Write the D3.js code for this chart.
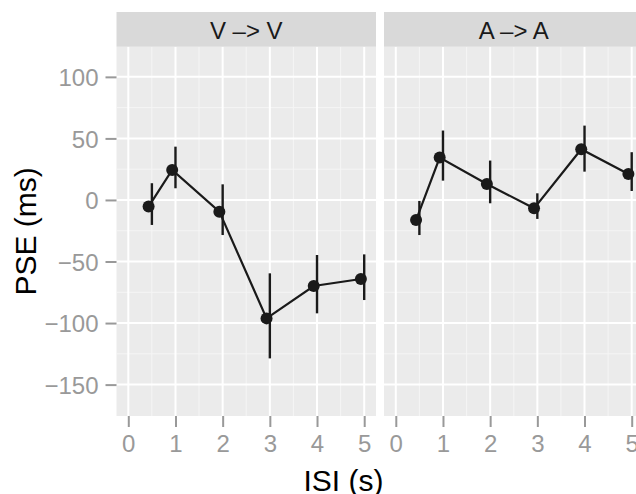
<!DOCTYPE html>
<html>
<head>
<meta charset="utf-8">
<script src="https://cdn.jsdelivr.net/npm/d3@7"></script>
<style>
  body { margin: 0; background: #fff; }
  svg { display: block; font-family: "Liberation Sans", Arial, Helvetica, sans-serif; }
</style>
</head>
<body>
<svg id="chart" width="636" height="494"></svg>
<script>
// Facet labels and the shared x values (inter-stimulus interval, seconds)
const facets = ["V –> V", "A –> A"];
const isi = [0.5, 1, 2, 3, 4, 5];

// PSE estimates (ms) with their interval limits, one set per facet
const pseVV   = [-5.4, 24.4, -9.5, -96.2, -69.9, -64.2];
const lowerVV = [-20.3, 9.5, -28.5, -128.7, -92.1, -81.3];
const upperVV = [13.6, 43.3, 12.7, -59.6, -44.7, -44.2];

const pseAA   = [-16.3, 34.4, 13.0, -6.8, 41.2, 21.1];
const lowerAA = [-28.5, 15.7, -2.7, -15.4, 23.0, 7.3];
const upperAA = [-0.8, 56.4, 32.0, 5.4, 60.4, 38.8];

// Axis breaks
const xTicks = [0, 1, 2, 3, 4, 5];
const xMinor = [0.5, 1.5, 2.5, 3.5, 4.5];
const yTicks = [-150, -100, -50, 0, 50, 100];
const yMinor = [-125, -75, -25, 25, 75];

const xDomain = [-0.25, 5.25];
const yDomain = [-175.5, 124.5];

// Layout
const panelTop = 46.7, panelBottom = 416;
const stripTop = 12;
const panelW = 259.5;
const panelLefts = [116.5, 384];
const dodge = -3.3; // points/line nudged left of the interval bars

const series = [
  { pse: pseVV, lo: lowerVV, hi: upperVV },
  { pse: pseAA, lo: lowerAA, hi: upperAA }
];

const svg = d3.select("#chart");
const y = d3.scaleLinear().domain(yDomain).range([panelBottom, panelTop]);

const ink = "#1a1a1a";
const axisGrey = "#999999";

facets.forEach((label, i) => {
  const left = panelLefts[i];
  const x = d3.scaleLinear().domain(xDomain).range([left, left + panelW]);
  const g = svg.append("g");

  // panel background
  g.append("rect")
    .attr("x", left).attr("y", panelTop)
    .attr("width", panelW).attr("height", panelBottom - panelTop)
    .attr("fill", "#EBEBEB");

  // minor grid
  g.selectAll(".vminor").data(xMinor).join("line")
    .attr("x1", d => x(d)).attr("x2", d => x(d))
    .attr("y1", panelTop).attr("y2", panelBottom)
    .attr("stroke", "#F5F5F5").attr("stroke-width", 1);
  g.selectAll(".hminor").data(yMinor).join("line")
    .attr("x1", left).attr("x2", left + panelW)
    .attr("y1", d => y(d)).attr("y2", d => y(d))
    .attr("stroke", "#F5F5F5").attr("stroke-width", 1);

  // major grid
  g.selectAll(".vmajor").data(xTicks).join("line")
    .attr("x1", d => x(d)).attr("x2", d => x(d))
    .attr("y1", panelTop).attr("y2", panelBottom)
    .attr("stroke", "#FFFFFF").attr("stroke-width", 2);
  g.selectAll(".hmajor").data(yTicks).join("line")
    .attr("x1", left).attr("x2", left + panelW)
    .attr("y1", d => y(d)).attr("y2", d => y(d))
    .attr("stroke", "#FFFFFF").attr("stroke-width", 2);

  // strip
  g.append("rect")
    .attr("x", left).attr("y", stripTop)
    .attr("width", panelW).attr("height", panelTop - stripTop)
    .attr("fill", "#D9D9D9");
  g.append("text")
    .attr("x", left + panelW / 2).attr("y", 39)
    .attr("text-anchor", "middle")
    .attr("font-size", 24).attr("fill", ink)
    .text(label);

  // x axis
  const xAxis = g.append("g")
    .attr("transform", `translate(0,${panelBottom})`)
    .call(d3.axisBottom(x).tickValues(xTicks).tickSize(11).tickPadding(8).tickFormat(d3.format("d")));
  xAxis.select(".domain").remove();
  xAxis.selectAll("line").attr("stroke", axisGrey).attr("stroke-width", 2);
  xAxis.selectAll("text").attr("fill", axisGrey).attr("font-size", 24)
    .attr("font-family", "'Liberation Sans', Arial, sans-serif");

  // data
  const s = series[i];
  const rows = isi.map((v, k) => ({ isi: v, pse: s.pse[k], lo: s.lo[k], hi: s.hi[k] }));

  g.selectAll(".err").data(rows).join("line")
    .attr("x1", d => x(d.isi)).attr("x2", d => x(d.isi))
    .attr("y1", d => y(d.lo)).attr("y2", d => y(d.hi))
    .attr("stroke", ink).attr("stroke-width", 2.4);

  const line = d3.line().x(d => x(d.isi) + dodge).y(d => y(d.pse));
  g.append("path").datum(rows)
    .attr("d", line)
    .attr("fill", "none").attr("stroke", ink).attr("stroke-width", 2.2);

  g.selectAll(".pt").data(rows).join("circle")
    .attr("cx", d => x(d.isi) + dodge).attr("cy", d => y(d.pse))
    .attr("r", 6).attr("fill", ink);
});

// y axis (left panel only)
const yAxis = svg.append("g")
  .attr("transform", `translate(${panelLefts[0]},0)`)
  .call(d3.axisLeft(y).tickValues(yTicks).tickSize(11).tickPadding(7));
yAxis.select(".domain").remove();
yAxis.selectAll("line").attr("stroke", axisGrey).attr("stroke-width", 2);
yAxis.selectAll("text").attr("fill", axisGrey).attr("font-size", 24).attr("dy", "0.36em")
  .attr("font-family", "'Liberation Sans', Arial, sans-serif");

// axis titles
svg.append("text")
  .attr("transform", `translate(36,${(panelTop + panelBottom) / 2}) rotate(-90)`)
  .attr("text-anchor", "middle")
  .attr("font-size", 30).attr("fill", "#000")
  .text("PSE (ms)");

svg.append("text")
  .attr("x", 343.5).attr("y", 491)
  .attr("text-anchor", "middle")
  .attr("font-size", 30).attr("fill", "#000")
  .text("ISI (s)");
</script>
</body>
</html>
